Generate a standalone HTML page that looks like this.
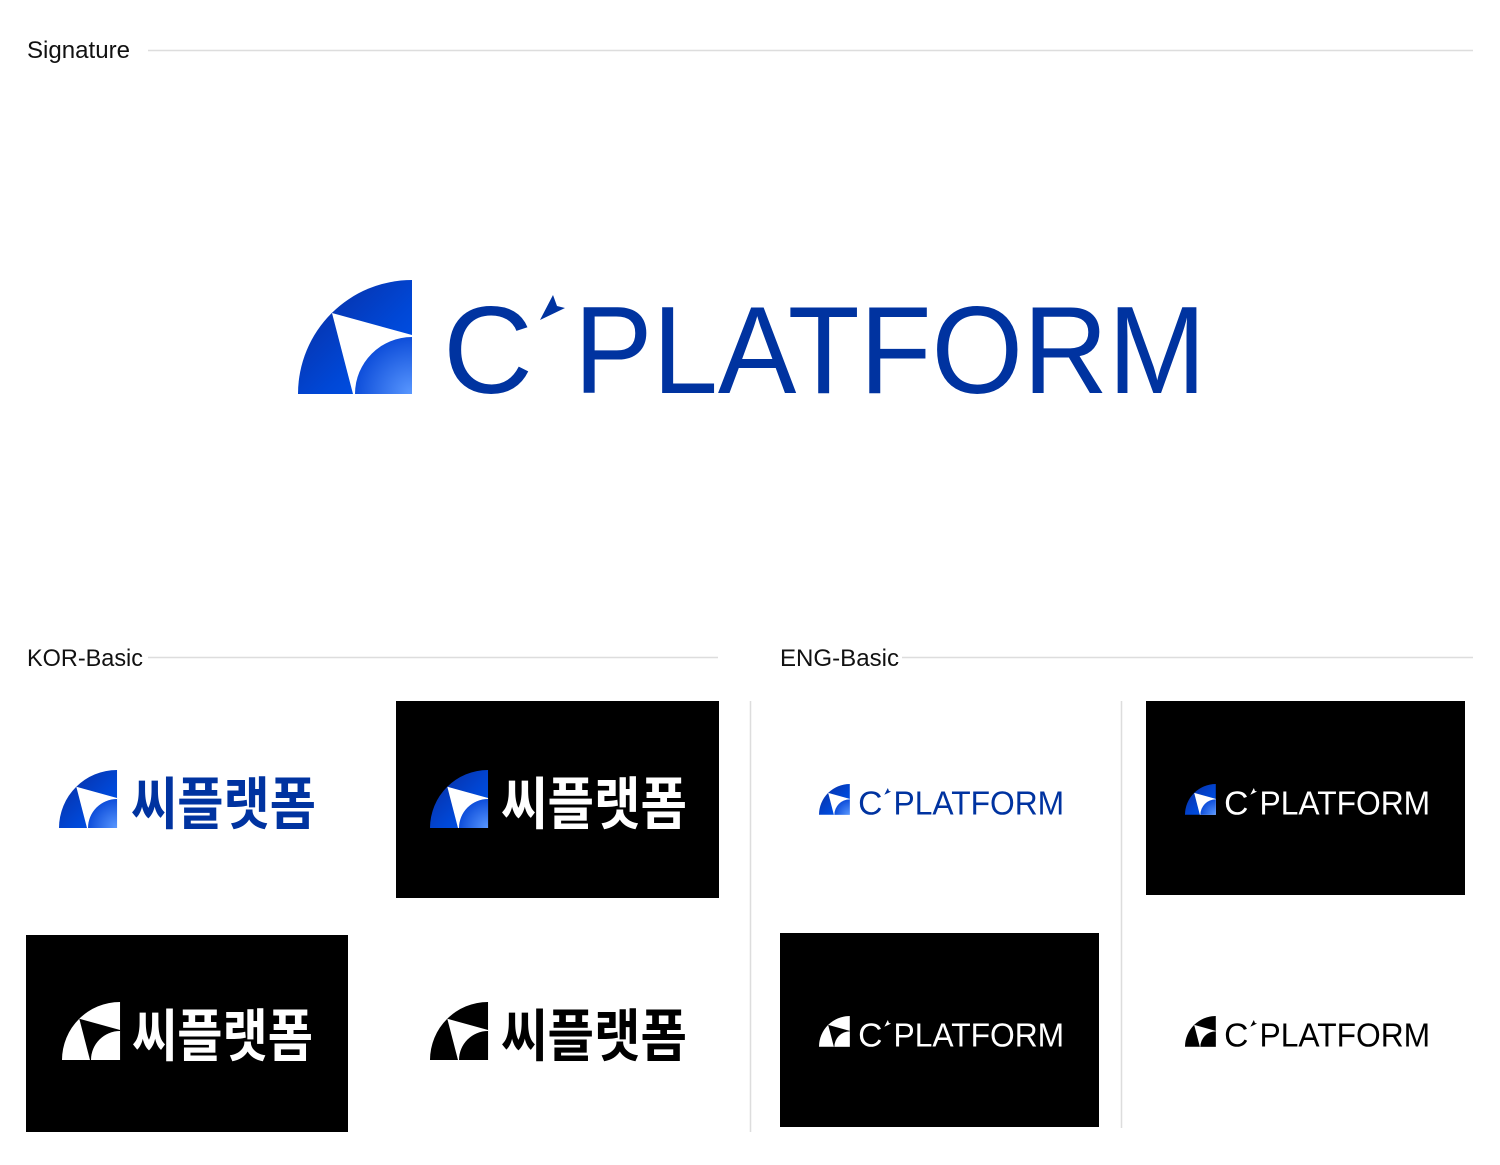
<!DOCTYPE html>
<html><head><meta charset="utf-8"><style>
html,body{margin:0;padding:0;background:#fff;}
svg{display:block;}
</style></head><body>
<svg width="1500" height="1165" viewBox="0 0 1500 1165" xmlns="http://www.w3.org/2000/svg">
<defs>
<linearGradient id="g1" x1="0" y1="0" x2="1" y2="1">
<stop offset="0" stop-color="#0a2a9a"/><stop offset="0.6" stop-color="#0047d6"/><stop offset="1" stop-color="#0058f0"/>
</linearGradient>
<radialGradient id="g2" cx="114" cy="114" r="60" gradientUnits="userSpaceOnUse">
<stop offset="0" stop-color="#5a98ff"/><stop offset="1" stop-color="#0a4ad8"/>
</radialGradient>
<g id="markC">
<path d="M0,114 A114,114 0 0 1 114,0 L114,114 Z" fill="url(#g1)"/>
<path d="M34,33 L114,55 L114,114 L55,114 Z" fill="#fff"/>
<path d="M114,57 A57,57 0 0 0 57,114 L114,114 Z" fill="url(#g2)"/>
</g>
<g id="markW">
<path d="M0,114 A114,114 0 0 1 114,0 L114,114 Z" fill="#fff"/>
<path d="M34,33 L114,55 L114,114 L55,114 Z" fill="#000"/>
<path d="M114,57 A57,57 0 0 0 57,114 L114,114 Z" fill="#fff"/>
</g>
<g id="markK">
<path d="M0,114 A114,114 0 0 1 114,0 L114,114 Z" fill="#000"/>
<path d="M34,33 L114,55 L114,114 L55,114 Z" fill="#fff"/>
<path d="M114,57 A57,57 0 0 0 57,114 L114,114 Z" fill="#000"/>
</g>
<g id="word">
<text x="443" y="393" font-family="Liberation Sans, sans-serif" font-size="124" textLength="90" lengthAdjust="spacingAndGlyphs">C</text>
<polygon points="553,295 557,306 565,308 540,320"/>
<text x="574" y="393" font-family="Liberation Sans, sans-serif" font-size="124" textLength="632" lengthAdjust="spacingAndGlyphs">PLATFORM</text>
</g>
</defs>

<g font-family="Liberation Sans, sans-serif" font-size="24" fill="#111">
<text x="27" y="58" textLength="103" lengthAdjust="spacingAndGlyphs">Signature</text>
<text x="27" y="666" textLength="116" lengthAdjust="spacingAndGlyphs">KOR-Basic</text>
<text x="780" y="666" textLength="119" lengthAdjust="spacingAndGlyphs">ENG-Basic</text>
</g>
<g stroke="#ddd" stroke-width="1.5">
<line x1="148" y1="50.5" x2="1473" y2="50.5"/>
<line x1="148" y1="657.5" x2="718" y2="657.5"/>
<line x1="902" y1="657.5" x2="1473" y2="657.5"/>
<line x1="750.5" y1="701" x2="750.5" y2="1132"/>
<line x1="1121.5" y1="701" x2="1121.5" y2="1128"/>
</g>

<use href="#markC" transform="translate(298,280)"/>
<use href="#word" fill="#0033a0"/>

<rect x="396" y="701" width="323" height="197" fill="#000"/>
<rect x="26" y="935" width="322" height="197" fill="#000"/>
<rect x="780" y="933" width="319" height="194" fill="#000"/>
<rect x="1146" y="701" width="319" height="194" fill="#000"/>

<g font-family="Liberation Sans, Noto Sans CJK KR, sans-serif" font-weight="bold" font-size="57">
<use href="#markC" transform="translate(59,770) scale(0.509)"/>
<text x="131" y="824" fill="#0033a0" textLength="185" lengthAdjust="spacingAndGlyphs">씨플랫폼</text>
<use href="#markC" transform="translate(430,770) scale(0.509)"/>
<text x="501" y="824" fill="#fff" textLength="186" lengthAdjust="spacingAndGlyphs">씨플랫폼</text>
<use href="#markW" transform="translate(62,1002) scale(0.509)"/>
<text x="132" y="1056" fill="#fff" textLength="181" lengthAdjust="spacingAndGlyphs">씨플랫폼</text>
<use href="#markK" transform="translate(430,1002) scale(0.509)"/>
<text x="501" y="1056" fill="#000" textLength="186" lengthAdjust="spacingAndGlyphs">씨플랫폼</text>
</g>

<g transform="translate(819,784) scale(0.27) translate(-298,-280)">
<use href="#markC" transform="translate(298,280)"/><use href="#word" fill="#0033a0"/>
</g>
<g transform="translate(1185,784) scale(0.27) translate(-298,-280)">
<use href="#markC" transform="translate(298,280)"/><use href="#word" fill="#fff"/>
</g>
<g transform="translate(819,1016) scale(0.27) translate(-298,-280)">
<use href="#markW" transform="translate(298,280)"/><use href="#word" fill="#fff"/>
</g>
<g transform="translate(1185,1016) scale(0.27) translate(-298,-280)">
<use href="#markK" transform="translate(298,280)"/><use href="#word" fill="#000"/>
</g>
</svg>
</body></html>
